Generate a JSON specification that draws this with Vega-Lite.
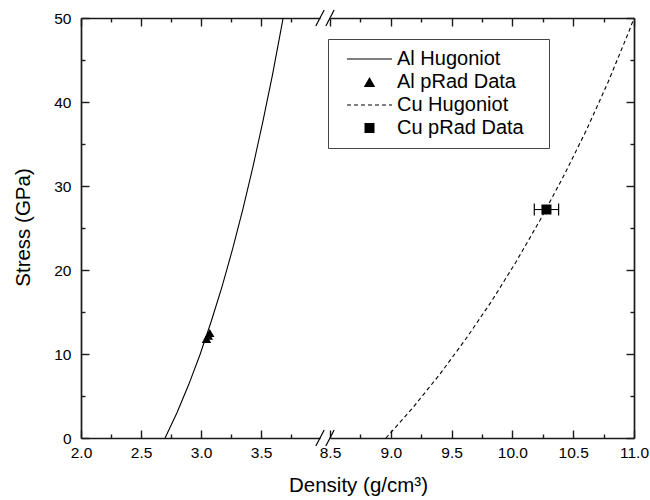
{
  "$schema": "https://vega.github.io/schema/vega-lite/v6.json",
  "padding": {"left": 13, "top": 9, "right": 5, "bottom": 5},
  "background": "white",
  "bounds": "flush",
  "spacing": 10,
  "config": {
    "font": "Liberation Sans",
    "view": {"stroke": null},
    "axis": {
      "labelFont": "Liberation Sans", "labelFontSize": 15.5, "labelColor": "black",
      "titleFont": "Liberation Sans", "titleFontSize": 20.5, "titleFontWeight": "normal", "titleColor": "black",
      "domainColor": "#1a1a1a", "domainWidth": 1.7, "tickColor": "#1a1a1a", "tickWidth": 1.4,
      "grid": false, "labelFlush": false, "labelOverlap": false
    }
  },
  "datasets": {
    "al": [
      {"series": "Al Hugoniot", "density": 2.700, "stress": 0},
      {"series": "Al Hugoniot", "density": 2.800, "stress": 3.03},
      {"series": "Al Hugoniot", "density": 2.897, "stress": 6.36},
      {"series": "Al Hugoniot", "density": 2.992, "stress": 9.97},
      {"series": "Al Hugoniot", "density": 3.084, "stress": 13.87},
      {"series": "Al Hugoniot", "density": 3.175, "stress": 18.06},
      {"series": "Al Hugoniot", "density": 3.263, "stress": 22.54},
      {"series": "Al Hugoniot", "density": 3.349, "stress": 27.31},
      {"series": "Al Hugoniot", "density": 3.433, "stress": 32.37},
      {"series": "Al Hugoniot", "density": 3.515, "stress": 37.72},
      {"series": "Al Hugoniot", "density": 3.596, "stress": 43.36},
      {"series": "Al Hugoniot", "density": 3.674, "stress": 49.29},
      {"series": "Al Hugoniot", "density": 3.683, "stress": 50.0}
    ],
    "alpts": [
      {"series": "Al pRad Data", "density": 3.045, "stress": 11.8},
      {"series": "Al pRad Data", "density": 3.06, "stress": 12.2},
      {"series": "Al pRad Data", "density": 3.072, "stress": 12.5}
    ],
    "cu": [
      {"series": "Cu Hugoniot", "density": 8.960, "stress": 0},
      {"series": "Cu Hugoniot", "density": 9.184, "stress": 3.65},
      {"series": "Cu Hugoniot", "density": 9.402, "stress": 7.57},
      {"series": "Cu Hugoniot", "density": 9.615, "stress": 11.75},
      {"series": "Cu Hugoniot", "density": 9.825, "stress": 16.20},
      {"series": "Cu Hugoniot", "density": 10.028, "stress": 20.92},
      {"series": "Cu Hugoniot", "density": 10.226, "stress": 25.90},
      {"series": "Cu Hugoniot", "density": 10.420, "stress": 31.15},
      {"series": "Cu Hugoniot", "density": 10.609, "stress": 36.66},
      {"series": "Cu Hugoniot", "density": 10.789, "stress": 42.44},
      {"series": "Cu Hugoniot", "density": 10.961, "stress": 48.49},
      {"series": "Cu Hugoniot", "density": 11.0, "stress": 50.0}
    ],
    "cupts": [
      {"series": "Cu pRad Data", "density": 10.28, "stress": 27.2, "lo": 10.18, "hi": 10.38}
    ]
  },
  "hconcat": [
    {
      "width": 239,
      "height": 420,
      "layer": [
        {
          "data": {"name": "al"},
          "mark": {"type": "line", "color": "black", "strokeWidth": 1.1, "clip": true},
          "encoding": {
            "x": {
              "field": "density", "type": "quantitative",
              "scale": {"domain": [2, 3.99], "nice": false, "zero": false},
              "axis": {
                "orient": "bottom", "title": null, "format": ".1f",
                "values": [2, 2.25, 2.5, 2.75, 3, 3.25, 3.5, 3.75],
                "labelExpr": "datum.value * 2 === round(datum.value * 2) ? datum.label : ''",
                "tickSize": {"condition": {"test": "datum.value * 2 === round(datum.value * 2)", "value": -8}, "value": -4},
                "labelPadding": 15
              }
            },
            "y": {
              "field": "stress", "type": "quantitative",
              "scale": {"domain": [0, 50], "nice": false, "zero": false},
              "axis": {
                "orient": "left", "title": "Stress (GPa)", "format": "d",
                "values": [0, 5, 10, 15, 20, 25, 30, 35, 40, 45, 50],
                "labelExpr": "datum.value % 10 === 0 ? datum.label : ''",
                "tickSize": {"condition": {"test": "datum.value % 10 === 0", "value": -8}, "value": -4},
                "labelPadding": 18,
                "titleX": -52, "titleY": 209, "titleAngle": -90, "titleAlign": "center", "titleBaseline": "alphabetic"
              }
            }
          }
        },
        {
          "data": {"name": "alpts"},
          "mark": {"type": "point", "shape": "triangle-up", "filled": true, "color": "black", "opacity": 1, "size": 90},
          "encoding": {
            "x": {
              "field": "density", "type": "quantitative",
              "axis": {
                "orient": "top", "title": null, "labels": false,
                "values": [2, 2.25, 2.5, 2.75, 3, 3.25, 3.5, 3.75],
                "tickSize": {"condition": {"test": "datum.value * 2 === round(datum.value * 2)", "value": -8}, "value": -4}
              }
            },
            "y": {"field": "stress", "type": "quantitative", "axis": null}
          }
        },
        {
          "data": {"values": [{}]},
          "mark": {"type": "rule", "color": "black", "strokeWidth": 1.2},
          "encoding": {
            "x": {"datum": 3.955, "type": "quantitative", "axis": null},
            "x2": {"datum": 4.025},
            "y": {"datum": -0.95, "type": "quantitative", "axis": null},
            "y2": {"datum": 0.95}
          }
        },
        {
          "data": {"values": [{}]},
          "mark": {"type": "rule", "color": "black", "strokeWidth": 1.2},
          "encoding": {
            "x": {"datum": 3.955, "type": "quantitative", "axis": null},
            "x2": {"datum": 4.025},
            "y": {"datum": 49.05, "type": "quantitative", "axis": null},
            "y2": {"datum": 50.95}
          }
        }
      ],
      "resolve": {"axis": {"x": "independent", "y": "independent"}}
    },
    {
      "width": 304,
      "height": 420,
      "layer": [
        {
          "data": {"name": "cu"},
          "mark": {"type": "line", "strokeWidth": 1.1, "strokeDash": [4, 3], "clip": true},
          "encoding": {
            "x": {
              "field": "density", "type": "quantitative",
              "scale": {"domain": [8.5, 11.0], "nice": false, "zero": false},
              "axis": {
                "orient": "bottom", "title": "Density (g/cm³)", "format": ".1f",
                "values": [8.5, 8.75, 9, 9.25, 9.5, 9.75, 10, 10.25, 10.5, 10.75, 11],
                "labelExpr": "datum.value * 2 === round(datum.value * 2) ? datum.label : ''",
                "tickSize": {"condition": {"test": "datum.value * 2 === round(datum.value * 2)", "value": -8}, "value": -4},
                "labelPadding": 15,
                "titleX": 28, "titleY": 53, "titleAlign": "center", "titleBaseline": "alphabetic"
              }
            },
            "y": {
              "field": "stress", "type": "quantitative",
              "scale": {"domain": [0, 50], "nice": false, "zero": false},
              "axis": {
                "orient": "right", "title": null, "labels": false,
                "values": [0, 5, 10, 15, 20, 25, 30, 35, 40, 45, 50],
                "tickSize": {"condition": {"test": "datum.value % 10 === 0", "value": -8}, "value": -4}
              }
            },
            "color": {
              "field": "series", "type": "nominal",
              "scale": {"domain": ["Al Hugoniot", "Al pRad Data", "Cu Hugoniot", "Cu pRad Data"], "range": ["black", "black", "black", "black"]},
              "legend": {
                "orient": "none", "legendX": -2, "legendY": 21,
                "title": "M", "titleOrient": "right", "titleColor": "white", "titleFontSize": 12, "titlePadding": 5,
                "labelFont": "Liberation Sans", "labelFontSize": 20, "labelColor": "black",
                "padding": 10, "rowPadding": 3, "labelOffset": 17.5, "symbolOffset": 21.5,
                "symbolSize": 2025, "symbolType": "stroke",
                "strokeColor": "#444444", "fillColor": "white",
                "encode": {
                  "symbols": {
                    "update": {
                      "shape": {"signal": "datum.value === 'Al pRad Data' ? 'triangle-up' : datum.value === 'Cu pRad Data' ? 'square' : 'stroke'"},
                      "size": {"signal": "datum.value === 'Al pRad Data' ? 130 : datum.value === 'Cu pRad Data' ? 100 : 2025"},
                      "fill": {"signal": "(datum.value === 'Al pRad Data' || datum.value === 'Cu pRad Data') ? 'black' : 'transparent'"},
                      "stroke": {"value": "black"},
                      "strokeWidth": {"signal": "(datum.value === 'Al pRad Data' || datum.value === 'Cu pRad Data') ? 0 : 1.1"},
                      "strokeDash": {"signal": "datum.value === 'Cu Hugoniot' ? [4, 3] : [1, 0]"},
                      "opacity": {"value": 1}
                    }
                  }
                }
              }
            }
          }
        },
        {
          "data": {"name": "cupts"},
          "mark": {"type": "rule", "color": "black", "strokeWidth": 1.1},
          "encoding": {
            "x": {"field": "lo", "type": "quantitative", "axis": null},
            "x2": {"field": "hi"},
            "y": {"field": "stress", "type": "quantitative", "axis": null}
          }
        },
        {
          "data": {"name": "cupts"},
          "mark": {"type": "tick", "orient": "vertical", "color": "black", "size": 12, "thickness": 1.2, "opacity": 1},
          "encoding": {
            "x": {"field": "lo", "type": "quantitative", "axis": null},
            "y": {"field": "stress", "type": "quantitative", "axis": null}
          }
        },
        {
          "data": {"name": "cupts"},
          "mark": {"type": "tick", "orient": "vertical", "color": "black", "size": 12, "thickness": 1.2, "opacity": 1},
          "encoding": {
            "x": {"field": "hi", "type": "quantitative", "axis": null},
            "y": {"field": "stress", "type": "quantitative", "axis": null}
          }
        },
        {
          "data": {"name": "cupts"},
          "mark": {"type": "point", "shape": "square", "filled": true, "opacity": 1, "size": 100},
          "encoding": {
            "x": {
              "field": "density", "type": "quantitative",
              "axis": {
                "orient": "top", "title": null, "labels": false,
                "values": [8.5, 8.75, 9, 9.25, 9.5, 9.75, 10, 10.25, 10.5, 10.75, 11],
                "tickSize": {"condition": {"test": "datum.value * 2 === round(datum.value * 2)", "value": -8}, "value": -4}
              }
            },
            "y": {"field": "stress", "type": "quantitative", "axis": null},
            "color": {"field": "series", "type": "nominal"}
          }
        },
        {
          "data": {"values": [{}]},
          "mark": {"type": "rule", "color": "black", "strokeWidth": 1.2},
          "encoding": {
            "x": {"datum": 8.466, "type": "quantitative", "axis": null},
            "x2": {"datum": 8.534},
            "y": {"datum": -0.95, "type": "quantitative", "axis": null},
            "y2": {"datum": 0.95}
          }
        },
        {
          "data": {"values": [{}]},
          "mark": {"type": "rule", "color": "black", "strokeWidth": 1.2},
          "encoding": {
            "x": {"datum": 8.466, "type": "quantitative", "axis": null},
            "x2": {"datum": 8.534},
            "y": {"datum": 49.05, "type": "quantitative", "axis": null},
            "y2": {"datum": 50.95}
          }
        }
      ],
      "resolve": {"axis": {"x": "independent", "y": "independent"}}
    }
  ],
  "resolve": {"scale": {"x": "independent", "y": "independent", "color": "independent"}}
}
